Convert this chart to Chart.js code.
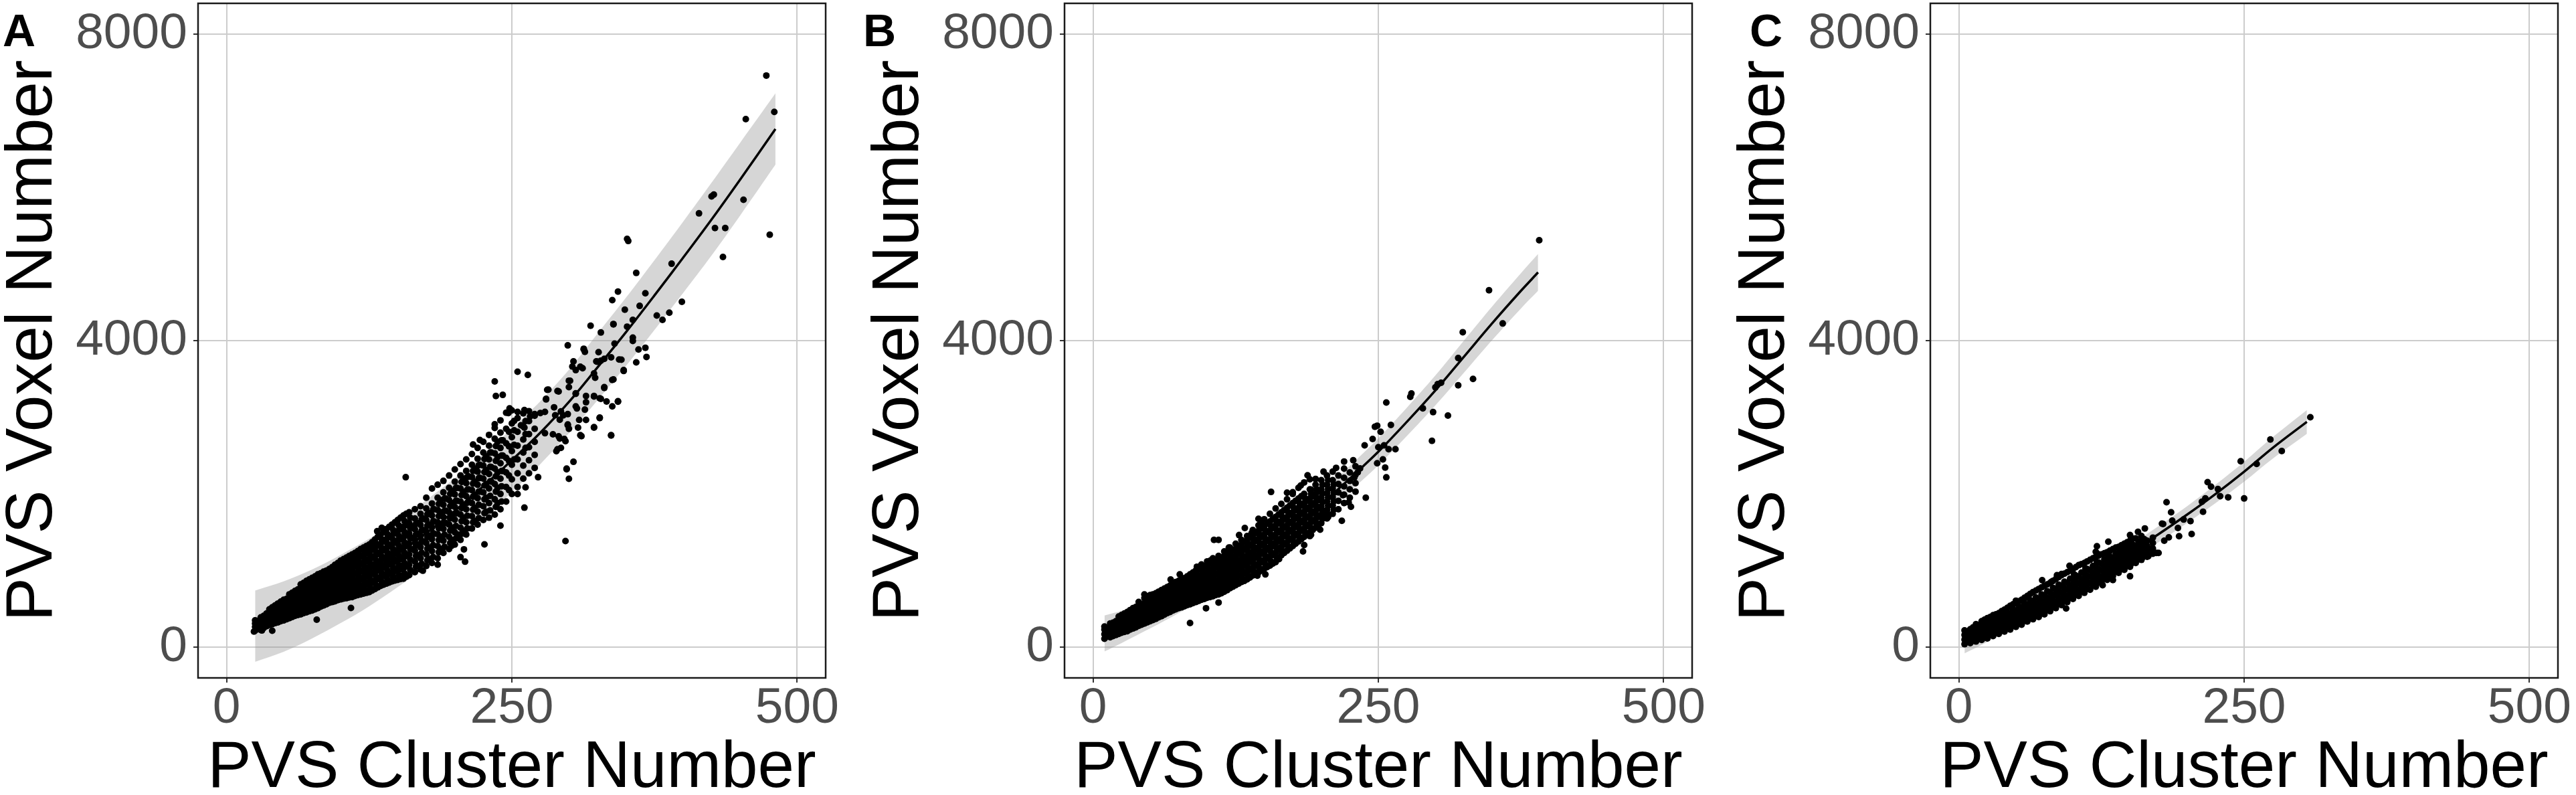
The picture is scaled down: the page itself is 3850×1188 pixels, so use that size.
<!DOCTYPE html>
<html lang="en">
<head>
<meta charset="UTF-8">
<title>PVS Cluster Number vs PVS Voxel Number</title>
<script src="https://cdn.jsdelivr.net/npm/chart.js@4.4.1/dist/chart.umd.min.js"></script>
<style>
  html, body { margin: 0; padding: 0; background: #fff; }
  body { width: 3850px; height: 1188px; position: relative; overflow: hidden; }
  .panel { position: absolute; top: 0; height: 1188px; }
  .tag { position: absolute; top: 11px; z-index: 2; font-family: "Liberation Sans", Arial, sans-serif;
         font-size: 68px; line-height: 68px; font-weight: bold; color: #000; }
</style>
</head>
<body>
<div class="panel" style="left:0;width:1290px"><canvas id="chart-a"></canvas></div>
<div class="panel" style="left:1295px;width:1290px"><canvas id="chart-b"></canvas></div>
<div class="panel" style="left:2589px;width:1261px"><canvas id="chart-c"></canvas></div>
<div class="tag" style="left:4px">A</div>
<div class="tag" style="left:1290px">B</div>
<div class="tag" style="left:2615px">C</div>

<script>
// axis ticks (same for all three panels)
const xTicks = [0, 250, 500];
const yTicks = [0, 4000, 8000];

// ---- panel A ----
const fitXA = [25, 50, 75, 100, 125, 150, 175, 200, 225, 250, 275, 300, 325, 350, 375, 400, 425, 450, 481];
const fitYA = [270, 400, 565, 760, 975, 1220, 1490, 1780, 2100, 2440, 2800, 3200, 3650, 4110, 4590, 5080, 5580, 6100, 6760];
const bandHiA = [740, 860, 1015, 1205, 1415, 1655, 1920, 2205, 2520, 2855, 3210, 3620, 4090, 4560, 5050, 5550, 6060, 6580, 7225];
const bandLoA = [-190, -60, 115, 315, 535, 785, 1060, 1355, 1680, 2025, 2390, 2790, 3220, 3670, 4140, 4620, 5110, 5630, 6295];
// each row: x, then the y values read in that column of the dense cloud
const coreA = [
  [25, 215, 265, 310, 350], [30, 225, 280, 335, 390], [35, 275, 330, 385, 440],
  [40, 300, 360, 420, 480, 520], [45, 325, 385, 450, 510, 570], [50, 350, 415, 480, 545, 620],
  [55, 380, 445, 510, 575, 645, 690], [60, 410, 475, 540, 610, 680, 735],
  [65, 430, 500, 570, 640, 710, 780, 820], [70, 455, 525, 600, 670, 745, 815, 865],
  [75, 480, 555, 630, 705, 780, 850, 905], [80, 510, 585, 660, 735, 810, 885, 950],
  [85, 545, 620, 695, 770, 845, 920, 985], [90, 580, 655, 730, 805, 880, 955, 1020],
  [95, 600, 680, 760, 840, 920, 1000, 1075], [100, 625, 705, 790, 875, 955, 1040, 1130],
  [105, 640, 730, 815, 905, 990, 1080, 1170], [110, 655, 750, 845, 935, 1030, 1120, 1210],
  [115, 680, 775, 875, 970, 1065, 1160, 1255], [120, 700, 800, 905, 1005, 1105, 1205, 1300],
  [125, 720, 825, 935, 1040, 1145, 1250, 1340], [130, 760, 865, 975, 1080, 1190, 1300, 1405],
  [135, 800, 910, 1020, 1130, 1240, 1350, 1470], [140, 830, 945, 1060, 1175, 1290, 1410, 1540],
  [145, 860, 980, 1100, 1220, 1340, 1460, 1600], [150, 880, 1010, 1135, 1260, 1390, 1515, 1660],
  [155, 895, 1030, 1165, 1300, 1435, 1570, 1720], [160, 940, 1075, 1210, 1350, 1485, 1620, 1760],
  [165, 980, 1120, 1260, 1400, 1540, 1680, 1800], [170, 1015, 1160, 1305, 1450, 1595, 1740, 1840],
  [175, 1060, 1210, 1360, 1510, 1660, 1810, 1950], [180, 1100, 1255, 1410, 1565, 1720, 1875, 2070],
  [185, 1160, 1320, 1475, 1630, 1790, 1950, 2120], [190, 1230, 1390, 1545, 1700, 1860, 2020, 2170],
  [195, 1280, 1440, 1600, 1760, 1920, 2080, 2240], [200, 1340, 1500, 1665, 1830, 1995, 2160, 2320],
  [205, 1400, 1560, 1730, 1900, 2070, 2240, 2390], [210, 1470, 1630, 1800, 1970, 2140, 2300, 2450],
  [215, 1550, 1710, 1880, 2050, 2220, 2380, 2520], [220, 1600, 1770, 1945, 2120, 2290, 2460, 2600],
  [225, 1660, 1840, 2020, 2200, 2370, 2540, 2680], [230, 1690, 1880, 2070, 2260, 2450, 2630, 2770],
  [235, 1730, 1930, 2130, 2330, 2530, 2720, 2860], [240, 1800, 2000, 2200, 2400, 2600, 2800, 2960],
  [245, 1900, 2090, 2280, 2470, 2660, 2850, 3060], [250, 2000, 2190, 2380, 2560, 2740, 2920, 3090],
  [255, 2090, 2270, 2450, 2630, 2810, 2990], [260, 2200, 2370, 2540, 2710, 2880, 3050],
  [265, 2270, 2440, 2610, 2780, 2950, 3080], [270, 2340, 2510, 2680, 2850, 3020],
  [162, 1280, 1430, 1580], [172, 1380, 1530, 1680], [182, 1480, 1640, 1800], [192, 1620, 1780, 1940],
  [202, 1750, 1910, 2080], [212, 1900, 2060, 2230], [222, 2030, 2210, 2380], [232, 2160, 2350, 2540],
  [242, 2300, 2500, 2700], [252, 2450, 2640, 2830], [262, 2600, 2780, 2950],
  [27.5, 240, 290, 345], [32.5, 250, 305, 360, 410], [37.5, 290, 345, 400, 455, 495],
  [42.5, 315, 375, 435, 495, 545], [47.5, 340, 400, 465, 530, 595], [52.5, 365, 430, 495, 560, 630],
  [57.5, 395, 460, 525, 595, 660, 710], [62.5, 420, 490, 555, 625, 695, 755],
  [67.5, 445, 515, 585, 655, 730, 800, 840], [72.5, 470, 540, 615, 690, 760, 830, 885],
  [77.5, 495, 570, 645, 720, 795, 870, 925], [82.5, 530, 605, 680, 755, 830, 900, 965],
  [87.5, 560, 640, 715, 790, 865, 940, 1000], [92.5, 590, 670, 745, 825, 900, 980, 1045],
  [97.5, 615, 695, 775, 860, 940, 1020, 1100], [102.5, 635, 720, 805, 890, 975, 1060, 1150],
  [107.5, 650, 740, 830, 920, 1010, 1100, 1190], [112.5, 670, 765, 860, 955, 1050, 1140, 1230],
  [117.5, 690, 790, 890, 990, 1085, 1185, 1280], [122.5, 710, 815, 920, 1020, 1125, 1225, 1320],
  [127.5, 740, 845, 955, 1060, 1170, 1275, 1370], [132.5, 780, 890, 1000, 1105, 1215, 1325, 1440],
  [137.5, 815, 930, 1040, 1155, 1265, 1380, 1500], [142.5, 845, 960, 1080, 1200, 1315, 1435, 1570],
  [147.5, 870, 995, 1120, 1240, 1365, 1490, 1630], [152.5, 890, 1020, 1150, 1280, 1410, 1545, 1690],
  [157.5, 920, 1055, 1190, 1325, 1460, 1595, 1740], [167.5, 1060, 1200, 1340, 1480, 1620],
  [177.5, 1150, 1300, 1450, 1600, 1750], [187.5, 1280, 1440, 1600, 1760, 1920],
  [197.5, 1400, 1560, 1720, 1880, 2040], [207.5, 1520, 1690, 1860, 2030, 2200],
  [217.5, 1650, 1820, 1990, 2160, 2330], [227.5, 1770, 1950, 2130, 2310, 2490],
  [237.5, 1880, 2080, 2280, 2480, 2680], [247.5, 2050, 2240, 2430, 2620, 2810]
];
// more values from the densest part of the cloud
const denseA = [
  [41, 330, 390, 450, 500], [46, 355, 418, 480, 540], [51, 382, 448, 512, 580],
  [56, 412, 478, 542, 610, 668], [61, 442, 508, 575, 645, 708], [66, 465, 535, 605, 675, 745, 800],
  [71, 490, 562, 635, 708, 780, 840], [76, 518, 592, 668, 742, 815, 878], [81, 548, 622, 698, 772, 848, 918],
  [86, 582, 658, 732, 808, 882, 952], [91, 618, 692, 768, 842, 918, 988], [96, 640, 720, 800, 880, 960, 1038],
  [101, 665, 748, 832, 915, 998, 1085], [106, 685, 772, 860, 948, 1035, 1125],
  [111, 702, 798, 890, 982, 1075, 1165], [116, 728, 825, 922, 1018, 1112, 1208],
  [121, 750, 852, 955, 1055, 1155, 1252], [126, 772, 880, 988, 1092, 1198, 1295],
  [131, 812, 920, 1028, 1135, 1245, 1352], [136, 855, 965, 1075, 1185, 1295, 1410],
  [141, 888, 1002, 1118, 1232, 1350, 1475], [146, 920, 1040, 1160, 1280, 1400, 1530],
  [151, 945, 1072, 1198, 1325, 1452, 1588], [156, 962, 1098, 1232, 1368, 1502, 1645],
  [161, 1008, 1142, 1280, 1418, 1552, 1690], [166, 1050, 1190, 1330, 1470, 1610],
  [171, 1088, 1232, 1378, 1522, 1668], [176, 1135, 1285, 1435, 1585, 1735],
  [181, 1178, 1332, 1488, 1642, 1798], [186, 1240, 1398, 1552, 1710, 1870],
  [191, 1310, 1468, 1622, 1780, 1940], [196, 1360, 1520, 1680, 1840, 2000],
  [201, 1420, 1582, 1748, 1912, 2078], [206, 1480, 1645, 1815, 1985, 2155],
  [211, 1550, 1715, 1885, 2055, 2220], [216, 1630, 1795, 1965, 2135, 2300],
  [221, 1685, 1858, 2032, 2205, 2375], [226, 1750, 1930, 2110, 2285, 2455],
  [231, 1785, 1975, 2165, 2355, 2540], [236, 1830, 2030, 2230, 2430, 2625], [241, 1900, 2100, 2300, 2500, 2700]
];
const outA = [
  [473, 7458], [480, 6983], [455, 6890], [427, 5905], [425, 5882], [414, 5660], [453, 5838], [428, 5469],
  [437, 5469], [435, 5092], [476, 5381], [351, 5327], [352, 5300], [359, 4883], [390, 5003], [343, 4639],
  [338, 4528], [367, 4617], [399, 4506], [377, 4328], [382, 4271], [388, 4364], [349, 4404], [362, 4453],
  [356, 4270], [351, 4182], [339, 4217], [319, 4195], [328, 4106], [299, 3938], [340, 3960], [356, 4040],
  [356, 3995], [361, 3884], [367, 3907], [368, 3787], [313, 3884], [314, 3853], [326, 3849], [337, 3782],
  [346, 3751], [324, 3729], [328, 3738], [304, 3729], [303, 3662], [312, 3640], [322, 3573], [323, 3516],
  [348, 3604], [359, 3716], [339, 3494], [301, 3476], [331, 3382], [282, 3360], [290, 3342], [306, 3307],
  [322, 3272], [328, 3240], [333, 3205], [338, 3143], [343, 3209], [315, 3196], [306, 3143], [280, 3240],
  [299, 3041], [293, 3076], [288, 3027], [309, 2965], [315, 2965], [327, 2996], [322, 2872], [299, 2907],
  [300, 2850], [310, 2766], [337, 2766], [296, 2717], [290, 2583], [291, 2752], [304, 2419], [298, 2331],
  [300, 2197], [297, 1385], [339, 4212], [313, 3894], [325, 3724], [331, 3762], [310, 3659], [306, 3615],
  [344, 3753], [348, 3615], [300, 3477], [300, 3394], [281, 3359], [291, 3336], [338, 3488], [331, 3394],
  [306, 3312], [315, 3277], [322, 3277], [327, 3247], [343, 3203], [280, 3233], [287, 3130], [307, 3115],
  [314, 3100], [295, 3024], [292, 2968], [299, 2895], [308, 2865], [327, 2989], [311, 2754], [322, 2865],
  [337, 2762], [292, 2724], [297, 2689], [279, 2792], [286, 2777], [293, 2601], [289, 2557], [298, 2321],
  [261, 3095], [248, 3115], [247, 3056], [255, 3071], [252, 2953], [258, 2895], [261, 2865], [266, 3012],
  [270, 3041], [275, 3056], [279, 3071], [235, 2909], [216, 2645], [222, 2703], [273, 2218], [262, 2086],
  [255, 1998], [240, 1586], [261, 1821], [226, 1342], [197, 1322], [203, 1469], [205, 1175], [209, 1116],
  [208, 1277], [185, 1078], [172, 998], [157, 2218], [132, 1513], [136, 1557], [235, 3468], [236, 3277],
  [242, 3292], [255, 3594], [264, 3553], [109, 513], [79, 360], [31, 219], [24, 205], [40, 215]
];

// ---- panel B ----
const fitXB = [10, 25, 50, 75, 100, 125, 150, 175, 200, 225, 250, 275, 300, 325, 350, 375, 390];
const fitYB = [180, 265, 425, 605, 810, 1040, 1290, 1570, 1870, 2200, 2550, 2940, 3350, 3790, 4230, 4650, 4890];
const bandHiB = [415, 475, 605, 765, 960, 1185, 1435, 1720, 2025, 2365, 2725, 3125, 3545, 4000, 4450, 4880, 5130];
const bandLoB = [-55, 55, 245, 445, 660, 895, 1145, 1420, 1715, 2035, 2375, 2755, 3155, 3580, 4010, 4420, 4650];
const coreB = [
  [10, 110, 170, 230, 270], [15, 130, 190, 250, 310], [20, 160, 220, 280, 340],
  [25, 190, 250, 310, 370, 420], [30, 210, 270, 330, 395, 460], [35, 245, 305, 370, 435, 510],
  [40, 280, 340, 405, 470, 540, 590], [45, 310, 375, 440, 505, 575, 640], [50, 340, 405, 470, 540, 610, 680],
  [55, 370, 435, 505, 575, 645, 705], [60, 405, 470, 540, 610, 680, 745], [65, 445, 510, 580, 650, 720, 785],
  [70, 480, 550, 620, 690, 760, 830], [75, 510, 580, 650, 725, 795, 865], [80, 535, 605, 680, 755, 830, 900],
  [85, 560, 635, 710, 785, 865, 950], [90, 590, 665, 745, 825, 905, 1000],
  [95, 620, 700, 780, 860, 940, 1040, 1080], [100, 645, 725, 810, 895, 980, 1070, 1120],
  [105, 665, 750, 840, 930, 1020, 1110, 1160], [110, 690, 780, 870, 965, 1060, 1150, 1190],
  [115, 725, 815, 910, 1005, 1100, 1195, 1250], [120, 770, 860, 955, 1050, 1145, 1240, 1300],
  [125, 810, 905, 1000, 1095, 1190, 1285, 1350], [130, 850, 945, 1045, 1145, 1245, 1340, 1400],
  [135, 885, 985, 1090, 1195, 1300, 1400, 1450], [140, 935, 1040, 1145, 1250, 1355, 1460, 1530],
  [145, 975, 1085, 1195, 1305, 1415, 1520, 1590], [150, 1025, 1135, 1245, 1360, 1470, 1580, 1670],
  [155, 1065, 1180, 1295, 1410, 1525, 1640, 1740], [160, 1110, 1230, 1350, 1470, 1590, 1700, 1810],
  [165, 1200, 1310, 1420, 1530, 1640, 1760, 1870], [170, 1260, 1370, 1480, 1590, 1700, 1820, 1930],
  [175, 1320, 1430, 1540, 1650, 1760, 1880, 2000], [180, 1380, 1490, 1600, 1710, 1820, 1940, 2080],
  [185, 1440, 1550, 1660, 1770, 1880, 2000, 2150], [190, 1500, 1610, 1720, 1830, 1940, 2060, 2190],
  [195, 1560, 1670, 1780, 1890, 2000, 2120], [200, 1620, 1730, 1840, 1950, 2060, 2180],
  [205, 1680, 1790, 1900, 2010, 2120, 2240], [210, 1740, 1850, 1960, 2070, 2180, 2290],
  [215, 1800, 1910, 2020, 2130, 2240], [220, 1880, 1990, 2100, 2210, 2330],
  [225, 1950, 2060, 2170, 2280], [230, 2030, 2140, 2250, 2360],
  [12.5, 140, 200, 255], [17.5, 145, 205, 265, 320], [22.5, 175, 235, 295, 355, 400],
  [27.5, 200, 260, 320, 385, 440], [32.5, 230, 290, 350, 415, 485], [37.5, 260, 325, 390, 455, 525],
  [42.5, 295, 360, 420, 490, 560], [47.5, 325, 390, 455, 520, 590, 660], [52.5, 355, 420, 490, 560, 630, 690],
  [57.5, 390, 455, 520, 590, 660, 725], [62.5, 425, 490, 560, 630, 700, 765], [67.5, 460, 530, 600, 670, 740, 805],
  [72.5, 495, 565, 635, 705, 780, 850], [77.5, 520, 590, 665, 740, 810, 880], [82.5, 550, 620, 695, 770, 850, 925],
  [87.5, 575, 650, 725, 805, 885, 975], [92.5, 605, 680, 760, 840, 920, 1020], [97.5, 630, 710, 795, 880, 960, 1055],
  [102.5, 655, 740, 825, 910, 1000, 1090], [107.5, 680, 765, 855, 945, 1040, 1130],
  [112.5, 705, 795, 890, 985, 1080, 1170], [117.5, 745, 835, 930, 1025, 1120, 1220],
  [122.5, 790, 880, 975, 1070, 1165, 1260], [127.5, 830, 925, 1020, 1120, 1215, 1310],
  [132.5, 865, 965, 1065, 1170, 1270, 1370], [137.5, 910, 1010, 1115, 1220, 1325, 1430],
  [142.5, 955, 1060, 1170, 1275, 1385, 1490], [147.5, 1000, 1110, 1220, 1330, 1440, 1550],
  [152.5, 1045, 1155, 1270, 1385, 1500, 1610], [157.5, 1090, 1205, 1320, 1440, 1555, 1670],
  [162.5, 1155, 1270, 1385, 1500, 1615, 1730], [167.5, 1230, 1340, 1450, 1560, 1670, 1790],
  [172.5, 1290, 1400, 1510, 1620, 1730, 1850], [177.5, 1350, 1460, 1570, 1680, 1790, 1910],
  [182.5, 1410, 1520, 1630, 1740, 1850, 1970], [187.5, 1470, 1580, 1690, 1800, 1910],
  [192.5, 1530, 1640, 1750, 1860, 1970], [197.5, 1590, 1700, 1810, 1920, 2030]
];
const denseB = [
  [51, 372, 438, 505, 575, 645], [56, 402, 470, 540, 610, 675], [61, 438, 505, 575, 645, 712],
  [66, 478, 545, 615, 685, 752], [71, 515, 585, 655, 725, 795], [76, 545, 615, 688, 760, 830],
  [81, 570, 642, 718, 792, 865], [86, 598, 672, 748, 825, 908], [91, 628, 705, 785, 865, 952],
  [96, 660, 740, 820, 900, 990], [101, 685, 768, 852, 938, 1025], [106, 708, 795, 885, 975, 1065],
  [111, 735, 825, 918, 1012, 1105], [116, 770, 862, 958, 1052, 1148], [121, 815, 908, 1002, 1098, 1192],
  [126, 858, 952, 1048, 1142, 1238], [131, 898, 995, 1095, 1195, 1292], [136, 935, 1038, 1142, 1248, 1350],
  [141, 988, 1092, 1198, 1302, 1408], [146, 1030, 1140, 1250, 1360, 1468], [151, 1080, 1190, 1302, 1415, 1525],
  [156, 1122, 1238, 1352, 1468, 1582], [161, 1170, 1290, 1410, 1530, 1645], [166, 1255, 1365, 1475, 1585, 1700],
  [171, 1315, 1425, 1535, 1645, 1760], [176, 1375, 1485, 1595, 1705, 1820], [181, 1435, 1545, 1655, 1765, 1880],
  [186, 1495, 1605, 1715, 1825, 1940], [191, 1555, 1665, 1775, 1885, 2000], [196, 1615, 1725, 1835, 1945, 2060],
  [201, 1675, 1785, 1895, 2005, 2120], [206, 1735, 1845, 1955, 2065, 2180], [211, 1795, 1905, 2015, 2125]
];
const outB = [
  [391, 5310], [347, 4657], [359, 4224], [324, 4110], [320, 3773], [333, 3500], [320, 3417], [302, 3433],
  [305, 3450], [300, 3390], [278, 3267], [279, 3310], [289, 3117], [298, 3067], [311, 3023], [297, 2693],
  [257, 3193], [261, 2900], [247, 2877], [249, 2890], [252, 2810], [245, 2717], [238, 2633], [250, 2610],
  [255, 2633], [259, 2583], [265, 2583], [254, 2450], [249, 2400], [256, 2343], [257, 2216], [228, 2440],
  [220, 2423], [234, 2333], [232, 2283], [229, 2216], [213, 2340], [202, 2290], [188, 2243], [195, 2196],
  [239, 1950], [224, 1890], [226, 1833], [219, 1983], [182, 2110], [156, 2026], [170, 2016], [175, 2023],
  [191, 2056], [218, 1650], [206, 1700], [204, 1716], [199, 1533], [191, 1466], [190, 1450], [185, 1333],
  [184, 1250], [133, 1556], [145, 1676], [147, 1633], [128, 1463], [139, 1490], [106, 1400], [110, 1400],
  [119, 1300], [163, 1149], [151, 950], [144, 933], [99, 509], [110, 583], [85, 316], [45, 689], [68, 883],
  [76, 950], [91, 1050], [95, 1033], [103, 1133]
];

// ---- panel C ----
const fitXC = [5, 25, 50, 75, 100, 125, 150, 175, 200, 225, 250, 275, 305];
const fitYC = [70, 205, 385, 580, 785, 1000, 1235, 1475, 1730, 2000, 2290, 2600, 2940];
const bandHiC = [220, 340, 505, 690, 885, 1100, 1335, 1580, 1840, 2120, 2420, 2740, 3095];
const bandLoC = [-80, 70, 265, 470, 685, 900, 1135, 1370, 1620, 1880, 2160, 2460, 2785];
const coreC = [
  [5, 40, 100, 160, 220], [10, 55, 115, 175, 235], [15, 75, 135, 195, 255, 300],
  [20, 95, 155, 215, 280, 340], [25, 115, 175, 240, 305, 380], [30, 145, 205, 270, 335, 410],
  [35, 175, 240, 305, 370, 445], [40, 205, 270, 335, 405, 490], [45, 230, 300, 370, 440, 540],
  [50, 265, 335, 405, 480, 580], [55, 295, 365, 440, 515, 620], [60, 335, 405, 480, 555, 670],
  [65, 365, 440, 515, 595, 720], [70, 395, 475, 555, 635, 760], [75, 430, 510, 590, 675, 800],
  [80, 470, 550, 630, 715, 840], [85, 510, 590, 675, 760, 890], [90, 550, 630, 715, 800, 940],
  [95, 590, 670, 755, 840, 980], [100, 630, 710, 795, 880, 1020], [105, 670, 750, 835, 920, 1070],
  [110, 710, 790, 875, 960, 1100], [115, 750, 835, 920, 1005, 1140], [120, 790, 875, 960, 1045, 1180],
  [125, 840, 920, 1005, 1090, 1210], [130, 880, 960, 1045, 1130, 1240], [135, 930, 1005, 1085, 1165, 1280],
  [140, 970, 1045, 1120, 1200, 1310], [145, 1010, 1085, 1160, 1240, 1350], [150, 1050, 1125, 1200, 1280, 1390],
  [155, 1100, 1170, 1245, 1320, 1420], [160, 1140, 1210, 1280, 1355, 1450], [165, 1180, 1250, 1320, 1390],
  [170, 1220, 1290, 1360, 1430],
  [7.5, 70, 130, 190], [12.5, 85, 145, 205, 260], [17.5, 105, 165, 225, 285],
  [22.5, 125, 185, 250, 310, 360], [27.5, 160, 220, 285, 350, 395], [32.5, 190, 255, 320, 385, 430],
  [37.5, 220, 285, 350, 420, 470], [42.5, 250, 315, 385, 455, 515], [47.5, 280, 350, 420, 495, 560],
  [52.5, 310, 385, 460, 535, 600], [57.5, 345, 420, 495, 570, 645], [62.5, 380, 455, 535, 615, 695],
  [67.5, 410, 490, 570, 650, 740], [72.5, 445, 525, 605, 690, 780], [77.5, 485, 565, 645, 730, 820],
  [82.5, 525, 605, 690, 775, 865], [87.5, 565, 645, 730, 815, 915], [92.5, 605, 685, 770, 855, 960],
  [97.5, 645, 725, 810, 895, 1000], [102.5, 685, 765, 850, 935, 1045], [107.5, 725, 805, 890, 975, 1085],
  [112.5, 765, 850, 935, 1020, 1120], [117.5, 805, 890, 975, 1060, 1160], [122.5, 855, 935, 1020, 1105, 1195],
  [127.5, 895, 975, 1060, 1145, 1225], [132.5, 940, 1020, 1100, 1185, 1260], [137.5, 985, 1060, 1140, 1220, 1300],
  [142.5, 1025, 1100, 1180, 1260, 1330], [147.5, 1065, 1140, 1220, 1300, 1370], [152.5, 1110, 1185, 1260, 1340],
  [157.5, 1150, 1225, 1300, 1375], [162.5, 1190, 1265, 1340, 1410]
];
const denseC = [
  [101, 670, 752, 838, 950], [111, 750, 832, 918, 1030], [121, 832, 918, 1002, 1110],
  [131, 920, 1002, 1088, 1185], [141, 1008, 1082, 1160, 1255], [151, 1088, 1162, 1240, 1335],
  [161, 1175, 1245, 1318, 1400]
];
const outC = [
  [308, 3000], [273, 2710], [283, 2559], [247, 2426], [250, 1941], [261, 2391], [218, 2153], [221, 2095],
  [227, 2063], [229, 1970], [236, 1956], [216, 1941], [213, 1898], [214, 1767], [182, 1892], [186, 1761],
  [187, 1651], [197, 1666], [203, 1645], [192, 1555], [193, 1448], [204, 1477], [178, 1613], [179, 1608],
  [184, 1434], [180, 1390], [173, 1230], [175, 1230], [167, 1288], [166, 1187], [163, 1550], [157, 1506],
  [150, 1463], [152, 1419], [155, 1230], [151, 1317], [146, 1288], [140, 1303], [131, 1376], [121, 1318],
  [120, 1245], [122, 1216], [150, 926], [149, 1056], [135, 877], [126, 810], [97, 1062], [73, 874],
  [81, 853], [86, 940], [90, 955], [50, 607], [57, 621], [30, 418], [94, 505]
];

const family = '"Liberation Sans", Arial, Helvetica, sans-serif';

// black frame round the plotting area
const panelFrame = {
  id: 'panelFrame',
  afterDraw(chart) {
    const { ctx, chartArea: a } = chart;
    ctx.save();
    ctx.strokeStyle = '#1a1a1a';
    ctx.lineWidth = 2.5;
    ctx.strokeRect(a.left, a.top, a.right - a.left, a.bottom - a.top);
    ctx.restore();
  }
};

function pairs(xs, ys) {
  return xs.map((x, i) => ({ x: x, y: ys[i] }));
}

function cloud(cols, extra) {
  const pts = [];
  cols.forEach(row => row.slice(1).forEach(y => pts.push({ x: row[0], y: y })));
  extra.forEach(p => pts.push({ x: p[0], y: p[1] }));
  return pts;
}

function makePanel(id, rightPad, fitX, fitY, hi, lo, cols, extra) {
  const grid = { color: '#cccccc', lineWidth: 2, tickColor: '#333333', tickLength: 7, tickWidth: 2 };
  return new Chart(document.getElementById(id), {
    type: 'scatter',
    data: {
      datasets: [
        { type: 'line', data: pairs(fitX, fitY), borderColor: '#000', borderWidth: 3.5,
          pointRadius: 0, tension: 0.35, fill: false, order: 0 },
        { type: 'scatter', data: cloud(cols, extra), backgroundColor: '#000', borderWidth: 0,
          pointRadius: 5, order: 1 },
        { type: 'line', data: pairs(fitX, hi), borderWidth: 0, borderColor: 'rgba(0,0,0,0)',
          pointRadius: 0, tension: 0.35, fill: '+1', backgroundColor: 'rgba(153,153,153,0.4)', order: 2 },
        { type: 'line', data: pairs(fitX, lo), borderWidth: 0, borderColor: 'rgba(0,0,0,0)',
          pointRadius: 0, tension: 0.35, fill: false, order: 3 }
      ]
    },
    options: {
      responsive: true,
      maintainAspectRatio: false,
      devicePixelRatio: 1,
      animation: false,
      events: [],
      layout: { padding: { top: 5, right: rightPad, left: 0, bottom: 0 } },
      plugins: { legend: { display: false }, tooltip: { enabled: false } },
      scales: {
        x: {
          type: 'linear', min: -25, max: 525,
          afterBuildTicks: axis => { axis.ticks = xTicks.map(v => ({ value: v })); },
          afterFit: axis => { axis.height = 175; axis.paddingLeft = 0; axis.paddingRight = 0; },
          grid: grid,
          border: { display: false },
          ticks: { color: '#4d4d4d', padding: 2, maxRotation: 0, font: { family: family, size: 75, lineHeight: 1 },
                   callback: v => String(v) },
          title: { display: true, text: 'PVS Cluster Number', color: '#000', padding: 0,
                   font: { family: family, size: 98, lineHeight: 0.8 } }
        },
        y: {
          type: 'linear', min: -400, max: 8400,
          afterBuildTicks: axis => { axis.ticks = yTicks.map(v => ({ value: v })); },
          afterFit: axis => { axis.width = 296; axis.paddingTop = 0; axis.paddingBottom = 0; },
          grid: grid,
          border: { display: false },
          ticks: { color: '#4d4d4d', padding: 9, font: { family: family, size: 75, lineHeight: 1 },
                   callback: v => String(v) },
          title: { display: true, text: 'PVS Voxel Number', color: '#000', padding: { top: 1, bottom: 0 },
                   font: { family: family, size: 98, lineHeight: 1 } }
        }
      }
    },
    plugins: [panelFrame]
  });
}

makePanel('chart-a', 56, fitXA, fitYA, bandHiA, bandLoA, coreA.concat(denseA), outA);
makePanel('chart-b', 56, fitXB, fitYB, bandHiB, bandLoB, coreB.concat(denseB), outB);
makePanel('chart-c', 27, fitXC, fitYC, bandHiC, bandLoC, coreC.concat(denseC), outC);
</script>
</body>
</html>
